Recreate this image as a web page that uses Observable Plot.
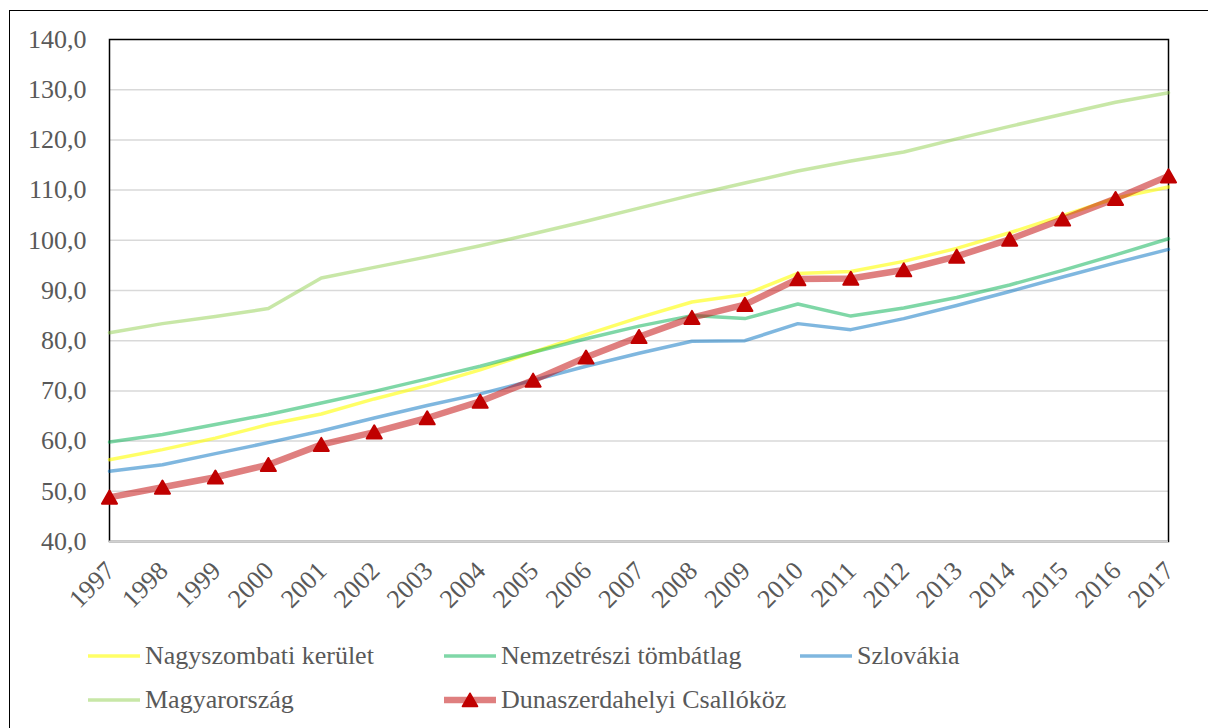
<!DOCTYPE html>
<html>
<head>
<meta charset="utf-8">
<script src="https://cdn.jsdelivr.net/npm/d3@7"></script>
<script src="https://cdn.jsdelivr.net/npm/@observablehq/plot@0.6"></script>
<style>
  html, body { margin: 0; padding: 0; background: white; overflow: hidden; }
  body { width: 1208px; height: 728px; position: relative; font-family: "Liberation Serif", "Times New Roman", serif; }
  #outer { position: absolute; left: 9px; top: 10px; width: 1400px; height: 900px; border: 1.5px solid #000; pointer-events: none; }
  #chart svg { display: block; }
  #chart svg text { font-family: "Liberation Serif", "Times New Roman", serif !important; }
  #legend { margin-top: 4px; padding-left: 88px; color: #595959; font-size: 26px; }
  .row { display: flex; height: 44px; align-items: center; }
  .item { width: 356px; display: flex; align-items: center; }
  .item svg { display: block; margin-right: 5px; }
</style>
</head>
<body>
<div id="chart"></div>
<div id="legend"></div>
<div id="outer"></div>
<script>
const years = [1997, 1998, 1999, 2000, 2001, 2002, 2003, 2004, 2005, 2006, 2007, 2008, 2009, 2010, 2011, 2012, 2013, 2014, 2015, 2016, 2017];
const nagyszombati = [56.3, 58.3, 60.6, 63.3, 65.4, 68.4, 71.1, 74.2, 77.7, 81.2, 84.6, 87.7, 89.2, 93.4, 93.8, 95.8, 98.4, 101.5, 104.9, 108.4, 110.6];
const nemzetreszi = [59.8, 61.3, 63.3, 65.3, 67.6, 69.9, 72.4, 74.9, 77.7, 80.4, 82.9, 85.0, 84.4, 87.3, 84.9, 86.5, 88.6, 91.1, 94.0, 97.1, 100.3];
const szlovakia = [54.0, 55.3, 57.5, 59.7, 62.0, 64.6, 67.1, 69.4, 72.1, 74.9, 77.5, 79.9, 80.0, 83.4, 82.2, 84.4, 87.0, 89.8, 92.7, 95.5, 98.2];
const magyarorszag = [81.6, 83.4, 84.8, 86.4, 92.5, 94.6, 96.7, 98.9, 101.3, 103.8, 106.4, 109.0, 111.4, 113.8, 115.8, 117.6, 120.2, 122.7, 125.1, 127.5, 129.4];
const dunaszerdahelyi = [48.8, 50.8, 52.8, 55.3, 59.3, 61.8, 64.6, 67.9, 72.1, 76.7, 80.8, 84.6, 87.2, 92.3, 92.4, 94.1, 96.8, 100.2, 104.2, 108.3, 112.8];
const yTicks = [40, 50, 60, 70, 80, 90, 100, 110, 120, 130, 140];
const gridValues = [50, 60, 70, 80, 90, 100, 110, 120, 130];

const series = [
  {name: "Nagyszombati kerület", values: nagyszombati, color: "#FFFF00", opacity: 0.6, width: 3.5, marker: false},
  {name: "Nemzetrészi tömbátlag", values: nemzetreszi, color: "#00B050", opacity: 0.5, width: 3.5, marker: false},
  {name: "Szlovákia", values: szlovakia, color: "#0070C0", opacity: 0.5, width: 3.5, marker: false},
  {name: "Magyarország", values: magyarorszag, color: "#92D050", opacity: 0.5, width: 3.5, marker: false},
  {name: "Dunaszerdahelyi Csallóköz", values: dunaszerdahelyi, color: "#C00000", opacity: 0.5, width: 6.5, marker: true}
];

const font = '"Liberation Serif", "Times New Roman", serif';
const fmt = d => d.toFixed(1).replace(".", ",");

const marks = [
  Plot.ruleY(gridValues, {stroke: "#d9d9d9", strokeWidth: 1.5}),
  Plot.frame({stroke: "#000", strokeWidth: 1.5}),
  Plot.ruleY([40], {stroke: "#d0d0d0", strokeWidth: 2}),
  Plot.axisY({ticks: yTicks, tickFormat: fmt, tickSize: 0, tickPadding: 23, fontSize: 26, fontFamily: font, fill: "#595959", label: null}),
  Plot.text(years, {x: d => d, frameAnchor: "bottom", text: d => String(d), rotate: -45, textAnchor: "end", lineAnchor: "middle", dx: 1, dy: 25, fontSize: 26, fontFamily: font, fill: "#595959"})
];
for (const s of series) {
  const data = years.map((y, i) => ({year: y, value: s.values[i]}));
  marks.push(Plot.line(data, {x: "year", y: "value", stroke: s.color, strokeOpacity: s.opacity, strokeWidth: s.width, strokeLinejoin: "round"}));
  if (s.marker) {
    marks.push(Plot.dot(data, {x: "year", y: "value", symbol: "triangle", r: 5.6, fill: s.color, stroke: s.color, strokeWidth: 2, strokeLinejoin: "round", dy: 2}));
  }
}

const chart = Plot.plot({
  width: 1208,
  height: 630,
  marginLeft: 109,
  marginRight: 40,
  marginTop: 39,
  marginBottom: 89,
  x: {domain: [1997, 2017], axis: null},
  y: {domain: [40, 140]},
  style: {background: "transparent", fontFamily: font},
  marks
});
document.getElementById("chart").appendChild(chart);

// Legend
const legend = document.getElementById("legend");
const rows = [series.slice(0, 3), series.slice(3)];
for (const r of rows) {
  const row = document.createElement("div");
  row.className = "row";
  for (const s of r) {
    const item = document.createElement("div");
    item.className = "item";
    const ns = "http://www.w3.org/2000/svg";
    const sw = document.createElementNS(ns, "svg");
    sw.setAttribute("width", 52); sw.setAttribute("height", 20);
    const ln = document.createElementNS(ns, "line");
    ln.setAttribute("x1", 0); ln.setAttribute("x2", 52); ln.setAttribute("y1", 10); ln.setAttribute("y2", 10);
    ln.setAttribute("stroke", s.color); ln.setAttribute("stroke-opacity", s.opacity); ln.setAttribute("stroke-width", s.width);
    sw.appendChild(ln);
    if (s.marker) {
      const tri = document.createElementNS(ns, "path");
      tri.setAttribute("d", d3.symbol(d3.symbolTriangle, 100)());
      tri.setAttribute("transform", "translate(26,12)");
      tri.setAttribute("fill", s.color); tri.setAttribute("stroke", s.color); tri.setAttribute("stroke-width", 1.5); tri.setAttribute("stroke-linejoin", "round");
      sw.appendChild(tri);
    }
    item.appendChild(sw);
    const t = document.createElement("span");
    t.textContent = s.name;
    item.appendChild(t);
    row.appendChild(item);
  }
  legend.appendChild(row);
}
</script>
</body>
</html>
